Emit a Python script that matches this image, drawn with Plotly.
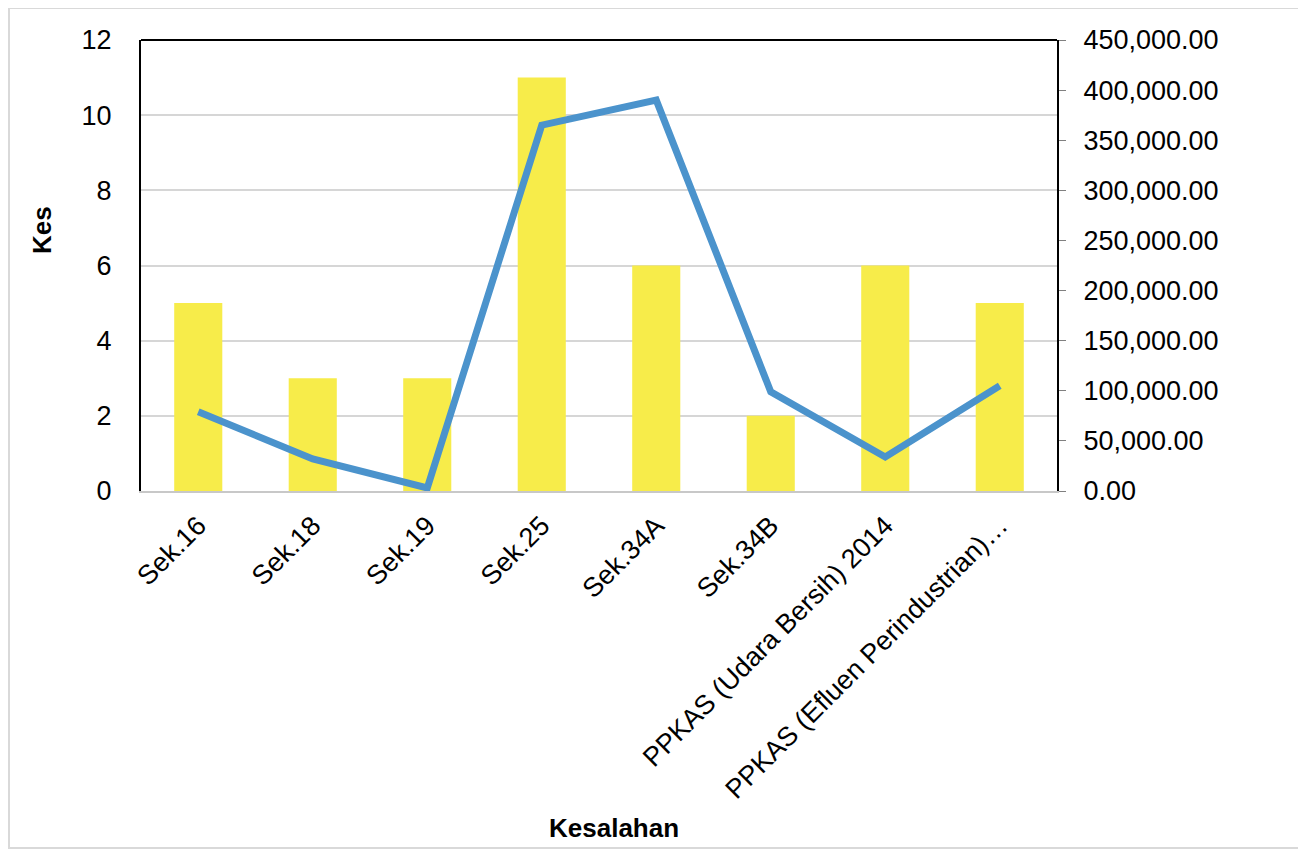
import plotly.graph_objects as go

categories = [
    "Sek.16",
    "Sek.18",
    "Sek.19",
    "Sek.25",
    "Sek.34A",
    "Sek.34B",
    "PPKAS (Udara Bersih) 2014",
    "PPKAS (Efluen Perindustrian)…",
]
kes = [5, 3, 3, 11, 6, 2, 6, 5]
kompaun = [79000, 32000, 3000, 365000, 390000, 99000, 34000, 105000]

left_ticks = [0, 2, 4, 6, 8, 10, 12]
right_ticks = [0, 50000, 100000, 150000, 200000, 250000, 300000, 350000, 400000, 450000]

FONT = "Liberation Sans, Arial, sans-serif"

fig = go.Figure()

fig.add_trace(
    go.Bar(
        x=categories,
        y=kes,
        name="Kes",
        marker=dict(color="#F7EC4A", line=dict(width=0)),
        width=0.42,
    )
)

fig.add_trace(
    go.Scatter(
        x=categories,
        y=kompaun,
        name="Kompaun",
        mode="lines",
        yaxis="y2",
        line=dict(color="#4B93CC", width=7),
    )
)

fig.update_layout(
    width=1298,
    height=845,
    margin=dict(l=133, r=249, t=32, b=362),
    paper_bgcolor="white",
    plot_bgcolor="white",
    showlegend=False,
    font=dict(family=FONT, size=27, color="black"),
    xaxis=dict(
        tickangle=-45,
        tickfont=dict(size=27),
        showgrid=False,
        showline=True,
        linecolor="#C8C8C8",
        linewidth=2,
        ticklabelstandoff=6,
    ),
    yaxis=dict(
        range=[0, 12],
        tickvals=left_ticks,
        tickfont=dict(size=27),
        showgrid=True,
        gridcolor="#D6D6D6",
        gridwidth=2,
        zeroline=False,
        showline=True,
        linecolor="black",
        linewidth=2,
        ticks="",
        ticklabelstandoff=22,
    ),
    yaxis2=dict(
        overlaying="y",
        side="right",
        range=[0, 450000],
        tickvals=right_ticks,
        tickformat=",.2f",
        tickfont=dict(size=27),
        showgrid=False,
        zeroline=False,
        showline=True,
        linecolor="black",
        linewidth=2,
        ticks="outside",
        ticklen=7,
        tickcolor="#808080",
        ticklabelstandoff=12,
    ),
    bargap=0.58,
)

# axis titles placed to match the original layout
fig.add_annotation(
    text="<b>Kesalahan</b>", xref="paper", yref="paper",
    x=0.516, y=-0.747, showarrow=False,
    font=dict(size=26), xanchor="center", yanchor="middle",
)
fig.add_annotation(
    text="<b>Kes</b>", xref="paper", yref="paper",
    x=-0.108, y=0.579, showarrow=False, textangle=-90,
    font=dict(size=26), xanchor="center", yanchor="middle",
)

# top border of plot area
fig.add_shape(
    type="line", xref="paper", yref="paper",
    x0=0, x1=1, y0=1, y1=1,
    line=dict(color="black", width=2),
)
# outer frame around chart
fig.add_shape(
    type="rect", xref="paper", yref="paper",
    x0=-0.1441, x1=1.2675, y0=-0.7916, y1=1.071,
    line=dict(color="#D9D9D9", width=2),
    layer="below",
)

fig.write_html("out.html")
